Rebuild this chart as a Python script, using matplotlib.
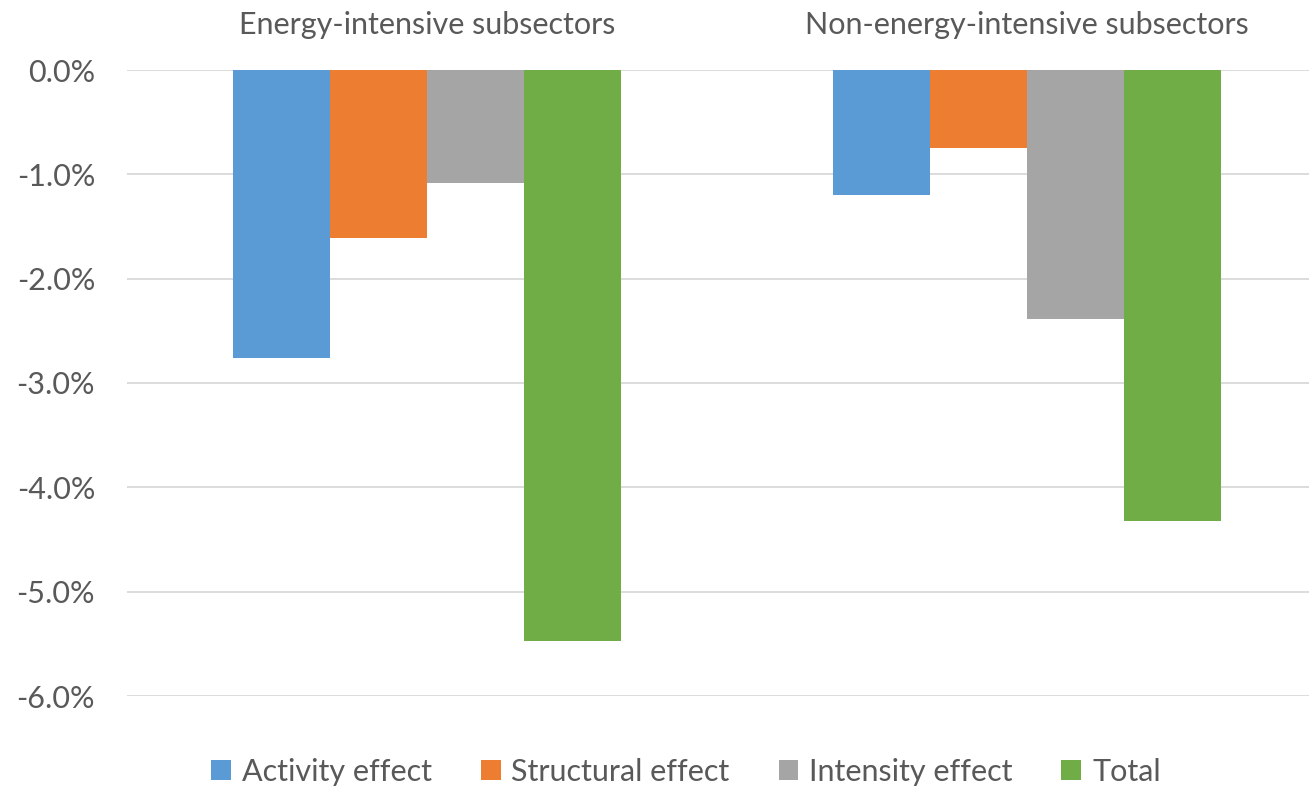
import matplotlib.pyplot as plt
import numpy as np

plt.rcParams['font.family'] = ['Lato', 'DejaVu Sans']

groups = ["Energy-intensive subsectors", "Non-energy-intensive subsectors"]
series = ["Activity effect", "Structural effect", "Intensity effect", "Total"]
activity = [-2.76, -1.20]
structural = [-1.61, -0.75]
intensity = [-1.08, -2.39]
total = [-5.47, -4.32]
colors = ["#5B9BD5", "#ED7D31", "#A5A5A5", "#70AD47"]
yticks = [0, -1, -2, -3, -4, -5, -6]

W, H = 1309, 789
fig = plt.figure(figsize=(W / 100, H / 100), dpi=100)
ax = fig.add_axes([127 / W, 1 - 696 / H, 1200 / W, (696 - 70) / H])

x = np.arange(len(groups))
bw = 0.1617
for i, (vals, name) in enumerate(zip([activity, structural, intensity, total], series)):
    ax.bar(x + (i - 1.5) * bw, vals, bw, color=colors[i], label=name, zorder=3)

ax.set_xlim(-0.5, 1.5)
ax.set_ylim(-6, 0)
ax.set_yticks(yticks)
ax.set_yticklabels([f"{v:.1f}%" for v in yticks])
ax.grid(axis='y', color='#D9D9D9', linewidth=1.3, zorder=0)
ax.tick_params(axis='y', length=0, pad=23, labelsize=22, labelcolor='#595959')
ax.set_xticks([])
for s in ax.spines.values():
    s.set_visible(False)

# category names sit above the zero line
for xi, g in zip(x, groups):
    ax.text(xi, 0.43, g, ha='center', va='center', fontsize=22, color='#595959',
            transform=ax.transData, clip_on=False)

fig.legend(loc='center', bbox_to_anchor=(686 / W, 1 - 772 / H), ncol=4, frameon=False,
           fontsize=22, labelcolor='#595959', handlelength=0.65, handleheight=0.65,
           handletextpad=0.35, columnspacing=1.6)

fig.savefig("out.png", dpi=100)
